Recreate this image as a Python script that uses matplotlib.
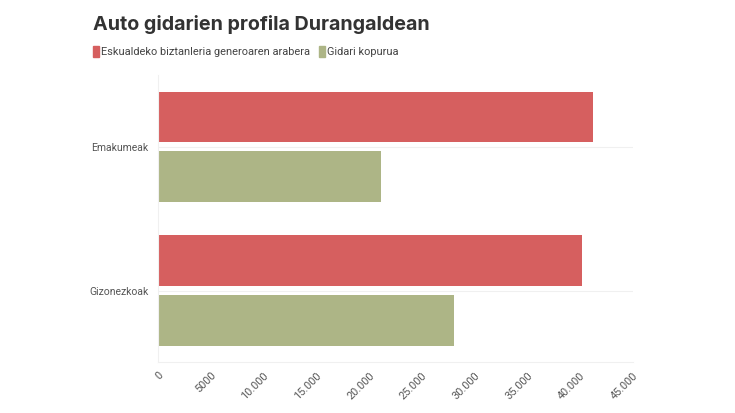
import matplotlib.pyplot as plt
from matplotlib.ticker import FuncFormatter

categories = ['Emakumeak', 'Gizonezkoak']
biztanleria = [41200, 40150]
gidariak = [21150, 28050]
series_names = ['Eskualdeko biztanleria generoaren arabera', 'Gidari kopurua']
colors = ['#d65f5f', '#adb586']

plt.rcParams['font.family'] = ['Roboto', 'DejaVu Sans']

fig = plt.figure(figsize=(7.35, 4.13), dpi=100)
ax = fig.add_axes([0.215, 0.1235, 0.646, 0.695])

pos = range(len(categories))
h = 0.354
ax.barh([p - 0.208 for p in pos], biztanleria, height=h, color=colors[0])
ax.barh([p + 0.208 for p in pos], gidariak, height=h, color=colors[1])

ax.set_ylim(1.495, -0.5)
ax.set_xlim(0, 45000)
ax.set_yticks(list(pos))
ax.set_yticklabels(categories, fontsize=7.5, color='#555555')
ax.set_xticks(range(0, 45001, 5000))


def fmt(v, _):
    v = int(v)
    if v < 10000:
        return str(v)
    return f'{v:,}'.replace(',', '.')


ax.xaxis.set_major_formatter(FuncFormatter(fmt))
for lbl in ax.get_xticklabels():
    lbl.set_rotation(45)
    lbl.set_fontsize(7.8)
    lbl.set_color('#555555')
    lbl.set_ha('right')
    lbl.set_rotation_mode('anchor')

ax.tick_params(length=0, pad=6)
ax.tick_params(axis='y', pad=7)
for p in pos:
    ax.axhline(p, color='#f0f0f0', lw=0.8, zorder=0)
for s in ['top', 'right']:
    ax.spines[s].set_visible(False)
ax.spines['left'].set_color('#f0f0f0')
ax.spines['bottom'].set_color('#f0f0f0')

fig.text(0.126, 0.94, 'Auto gidarien profila Durangaldean', fontsize=14.2,
         fontweight='bold', color='#333333', va='center', family=['Inter', 'DejaVu Sans'])

# legend
x = 0.126
for name, c in zip(series_names, colors):
    fig.patches.append(plt.Rectangle((x, 0.862), 0.009, 0.027, color=c,
                                     transform=fig.transFigure, figure=fig))
    t = fig.text(x + 0.012, 0.875, name, fontsize=7.9, color='#444444', va='center')
    fig.canvas.draw()
    bb = t.get_window_extent()
    x = bb.x1 / fig.bbox.width + 0.011

fig.savefig('out.png', dpi=100)
